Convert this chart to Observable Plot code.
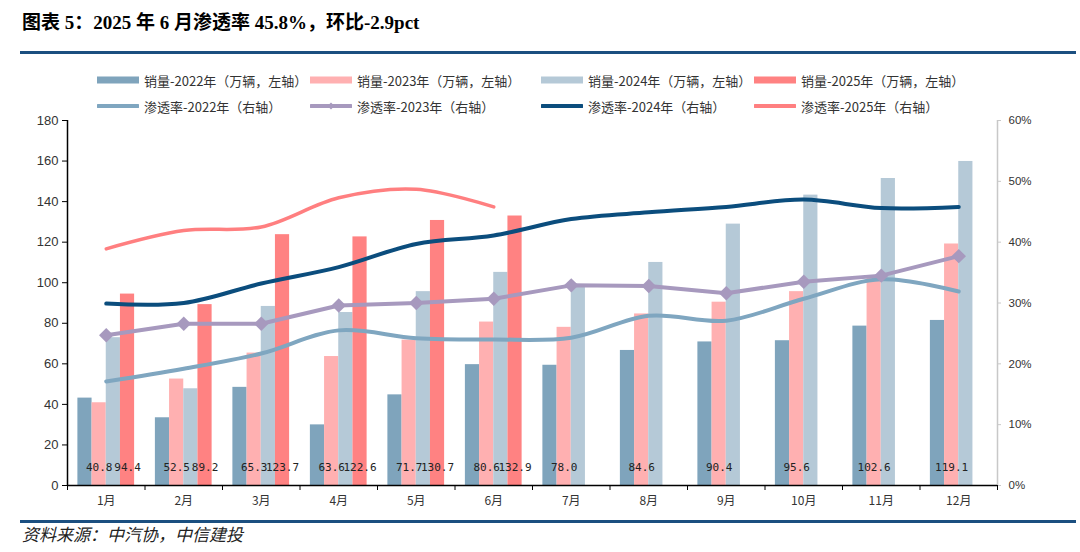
<!DOCTYPE html>
<html>
<head>
<meta charset="utf-8">
<script src="https://cdn.jsdelivr.net/npm/d3@7"></script>
<script src="https://cdn.jsdelivr.net/npm/@observablehq/plot@0.6"></script>
<style>
  html, body { margin: 0; padding: 0; background: #fff; }
  #wrap { position: relative; width: 1080px; height: 552px; overflow: hidden; font-family: "Noto Sans CJK SC", sans-serif; }
  #title { position: absolute; left: 22px; top: 7px; font-family: "Liberation Serif", "Noto Sans CJK SC", serif; font-weight: bold; font-size: 19px; color: #000; white-space: nowrap; }
  .rule { position: absolute; left: 20px; width: 1056px; height: 3px; background: #1B4F80; }
  .leg { position: absolute; display: flex; align-items: center; font-size: 13px; color: #333; white-space: nowrap; height: 18px; }
  .leg svg { margin-right: 5px; }
  #chart { position: absolute; left: 0; top: 112px; }
  #source { position: absolute; left: 22px; top: 521px; font-size: 17px; font-style: italic; color: #222; white-space: nowrap; }
</style>
</head>
<body>
<div id="wrap">
  <div id="title">图表 5：2025 年 6 月渗透率 45.8%，环比-2.9pct</div>
  <div class="rule" style="top:51px"></div>
  <div id="legend"></div>
  <div id="chart"></div>
  <div class="rule" style="top:520px"></div>
  <div id="source">资料来源：中汽协，中信建投</div>
</div>
<script>
const months = ["1月","2月","3月","4月","5月","6月","7月","8月","9月","10月","11月","12月"];
const sales2022 = [43.1,33.4,48.4,29.9,44.7,59.6,59.3,66.6,70.8,71.4,78.6,81.4];
const sales2023 = [40.8,52.5,65.3,63.6,71.7,80.6,78.0,84.6,90.4,95.6,102.6,119.1];
const sales2024 = [72.9,47.7,88.3,85.3,95.6,105.1,97.8,110.0,128.9,143.2,151.4,159.8];
const sales2025 = [94.4,89.2,123.7,122.6,130.7,132.9];
const rate2022 = [17.1,19.2,21.7,25.5,24.2,24.0,24.3,27.9,27.1,30.7,33.9,31.9];
const rate2023 = [24.7,26.6,26.6,29.6,30.0,30.7,32.9,32.8,31.6,33.5,34.5,37.7];
const rate2024 = [29.9,30.0,33.2,35.9,39.7,41.1,43.8,44.9,45.8,47.0,45.6,45.8];
const rate2025 = [38.9,41.9,42.5,47.3,48.7,45.8];
const leftTicks = [0,20,40,60,80,100,120,140,160,180];
const rightTicks = [0,10,20,30,40,50,60];

const barSeries = [
  {name: "销量-2022年（万辆，左轴）", values: sales2022, color: "#7FA4BC"},
  {name: "销量-2023年（万辆，左轴）", values: sales2023, color: "#FFB0B1"},
  {name: "销量-2024年（万辆，左轴）", values: sales2024, color: "#B5C9D7"},
  {name: "销量-2025年（万辆，左轴）", values: sales2025, color: "#FF8282"}
];
const lineSeries = [
  {name: "渗透率-2022年（右轴）", values: rate2022, color: "#7FA6C0", width: 4},
  {name: "渗透率-2023年（右轴）", values: rate2023, color: "#A799BE", width: 4, marker: true},
  {name: "渗透率-2024年（右轴）", values: rate2024, color: "#0B4D7D", width: 4},
  {name: "渗透率-2025年（右轴）", values: rate2025, color: "#FF7F80", width: 3.5}
];

const k = 180 / 60; // right axis (%) -> left axis units
const bw = 0.183;    // bar width in month units

const bars = barSeries.flatMap((s, si) => s.values.map((v, i) => ({m: i + 1, v, si, color: s.color})));
const labelRows = [
  ...sales2023.map((v, i) => ({m: i + 1, v, si: 1})),
  ...sales2025.map((v, i) => ({m: i + 1, v, si: 3}))
];

const marks = [
  Plot.rect(bars, {
    x1: d => d.m - 2 * bw + d.si * bw,
    x2: d => d.m - 2 * bw + (d.si + 1) * bw,
    y1: 0, y2: "v", fill: "color"
  })
];
lineSeries.forEach(s => {
  const rows = s.values.map((r, i) => ({m: i + 1, r}));
  marks.push(Plot.line(rows, {x: "m", y: d => d.r * k, stroke: s.color, strokeWidth: s.width, curve: s.marker ? "linear" : "catmull-rom", strokeLinecap: "round", strokeLinejoin: "round"}));
  if (s.marker) marks.push(Plot.dot(rows, {x: "m", y: d => d.r * k, symbol: "diamond2", r: 6.5, fill: s.color}));
});
marks.push(
  Plot.text(labelRows, {
    x: d => d.m - 2 * bw + (d.si + 0.5) * bw, y: 0, dy: -18,
    text: d => d.v.toFixed(1), fontFamily: "DejaVu Sans Mono", fontSize: 11, fill: "#222"
  }),
  Plot.axisY({ticks: leftTicks, label: null, tickSize: 5, tickPadding: 4, fontSize: 13, fontFamily: "Liberation Sans", stroke: "#000", fill: "#333"}),
  Plot.ruleX([0.5], {stroke: "#000", strokeWidth: 1.5}),
  Plot.ruleX([12.5], {stroke: "#c8c8c8", strokeWidth: 1.5}),
  Plot.axisY({anchor: "right", label: null, ticks: rightTicks.map(t => t * k), tickFormat: d => Math.round(d / k) + "%", tickSize: 3, tickPadding: 8, fontSize: 11.5, fontFamily: "Liberation Sans", stroke: "#c8c8c8", fill: "#333"}),
  Plot.ruleY([0], {stroke: "#000", strokeWidth: 1.5}),
  Plot.axisX({ticks: d3.range(0.5, 13, 1), label: null, tickFormat: () => "", tickSize: 5, stroke: "#000"}),
  Plot.axisX({ticks: d3.range(1, 13), label: null, tickFormat: i => months[i - 1], tickSize: 0, tickPadding: 11, fontSize: 12, fontFamily: "Noto Sans CJK SC", fill: "#333"})
);

const chart = Plot.plot({
  width: 1080, height: 403,
  marginLeft: 67, marginRight: 83, marginTop: 8, marginBottom: 30,
  x: {domain: [0.5, 12.5], axis: null},
  y: {domain: [0, 180], axis: null},
  marks
});
document.getElementById("chart").appendChild(chart);

// legend
const legend = document.getElementById("legend");
const colX = [97, 310, 541, 754];
const rowY = [71, 97];
function addItem(x, y, name, swatch) {
  const div = document.createElement("div");
  div.className = "leg";
  div.style.left = x + "px";
  div.style.top = y + "px";
  div.innerHTML = swatch + "<span>" + name + "</span>";
  legend.appendChild(div);
}
barSeries.forEach((s, i) => {
  addItem(colX[i], rowY[0], s.name, `<svg width="42" height="10"><rect x="0" y="1.5" width="42" height="7" fill="${s.color}"/></svg>`);
});
lineSeries.forEach((s, i) => {
  const marker = s.marker ? `<path d="M21,1.5 L24.5,5 L21,8.5 L17.5,5 Z" fill="${s.color}"/>` : "";
  addItem(colX[i], rowY[1], s.name, `<svg width="42" height="10"><line x1="1" x2="41" y1="5" y2="5" stroke="${s.color}" stroke-width="4" stroke-linecap="round"/>${marker}</svg>`);
});
</script>
</body>
</html>
